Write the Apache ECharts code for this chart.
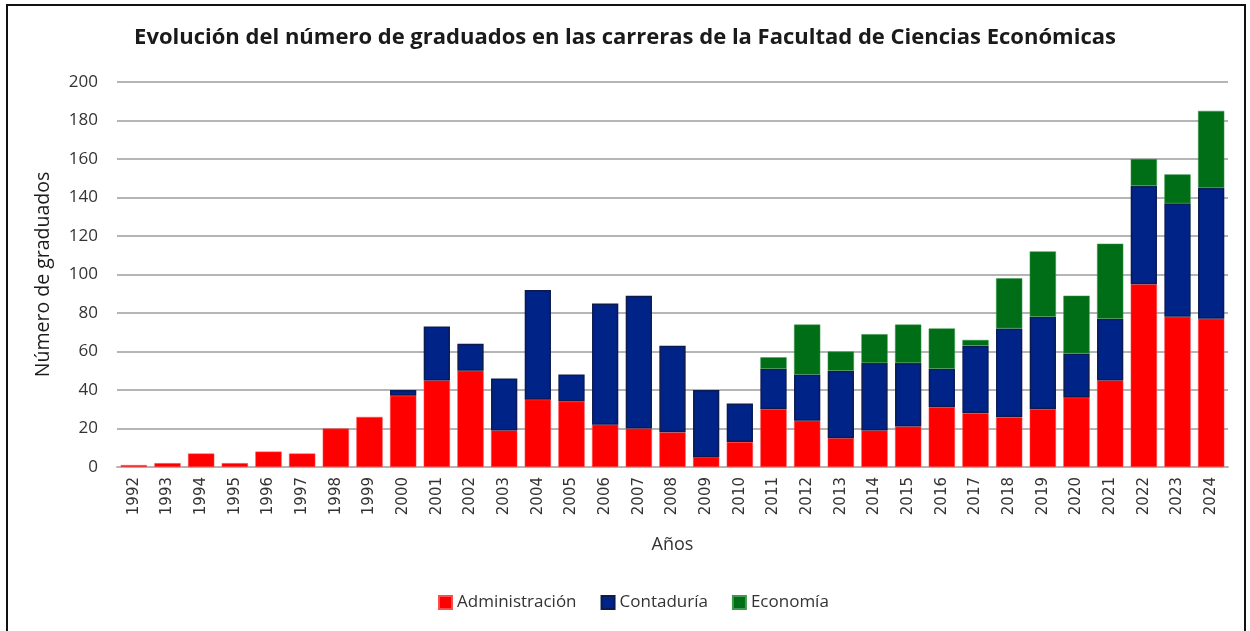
<!DOCTYPE html>
<html><head><meta charset="utf-8">
<script src="https://cdn.jsdelivr.net/npm/echarts@6/dist/echarts.min.js"></script>
<style>html,body{margin:0;padding:0;background:#fff}#c{width:1250px;height:631px}</style>
</head><body><div id="c"></div>
<script>
const years = ['1992','1993','1994','1995','1996','1997','1998','1999','2000','2001','2002','2003','2004','2005','2006','2007','2008','2009','2010','2011','2012','2013','2014','2015','2016','2017','2018','2019','2020','2021','2022','2023','2024'];
const administracion = [1,2,7,2,8,7,20,26,37,45,50,19,35,34,22,20,18,5,13,30,24,15,19,21,31,28,26,30,36,45,95,78,77];
const contaduria = [0,0,0,0,0,0,0,0,3,28,14,27,57,14,63,69,45,35,20,21,24,35,35,33,20,35,46,48,23,32,51,59,68];
const economia = [0,0,0,0,0,0,0,0,0,0,0,0,0,0,0,0,0,0,0,6,26,10,15,20,21,3,26,34,30,39,14,15,40];
const yTicks = [0,20,40,60,80,100,120,140,160,180,200];

const font = 'Open Sans';
const chart = echarts.init(document.getElementById('c'), null, {renderer:'canvas'});
function nz(a){return a.map(v => v === 0 ? null : v);}
chart.setOption({
  animation:false,
  textStyle:{fontFamily:font},
  title:{text:'Evolución del número de graduados en las carreras de la Facultad de Ciencias Económicas',
    left:'center', top:22, textStyle:{fontFamily:font, fontWeight:'bold', fontSize:22, color:'#1a1a1a'}},
  graphic:[{type:'rect', shape:{x:7,y:5,width:1238,height:640}, style:{fill:'none', stroke:'#111', lineWidth:2}}],
  legend:{bottom:15, left:433, itemWidth:13, itemHeight:13, itemGap:24, icon:'rect',
    textStyle:{fontFamily:font, fontSize:17, color:'#333'},
    data:['Administración','Contaduría','Economía']},
  grid:{left:117, right:22, top:82, bottom:164, containLabel:false},
  xAxis:{type:'category', data:years, name:'Años', nameLocation:'middle', nameGap:69,
    nameTextStyle:{fontSize:18, color:'#333', fontFamily:font},
    axisLine:{lineStyle:{color:'#b5b5b5', width:2}}, axisTick:{show:false},
    axisLabel:{rotate:90, fontSize:15, color:'#333', margin:10, interval:0, fontFamily:'DejaVu Sans'}},
  yAxis:{type:'value', min:0, max:200, interval:20, name:'Número de graduados', nameLocation:'middle', nameGap:64,
    nameTextStyle:{fontSize:19.5, color:'#1a1a1a', fontFamily:font},
    axisLine:{show:false}, axisTick:{show:false},
    axisLabel:{fontSize:17, color:'#333', margin:19, fontFamily:font, formatter:v => yTicks.includes(v) ? String(v) : ''},
    splitLine:{lineStyle:{color:'#b5b5b5', width:2}}},
  series:[
    {name:'Administración', type:'bar', stack:'t', data:nz(administracion), barCategoryGap:'22%',
      itemStyle:{color:'#ff0000', borderColor:'#ff4d4d', borderWidth:0.5}},
    {name:'Contaduría', type:'bar', stack:'t', data:nz(contaduria),
      itemStyle:{color:'#002387', borderColor:'#0b1a4f', borderWidth:1.5}},
    {name:'Economía', type:'bar', stack:'t', data:nz(economia),
      itemStyle:{color:'#006e17', borderColor:'#3f9a4c', borderWidth:0.5}}
  ]
});
</script></body></html>
